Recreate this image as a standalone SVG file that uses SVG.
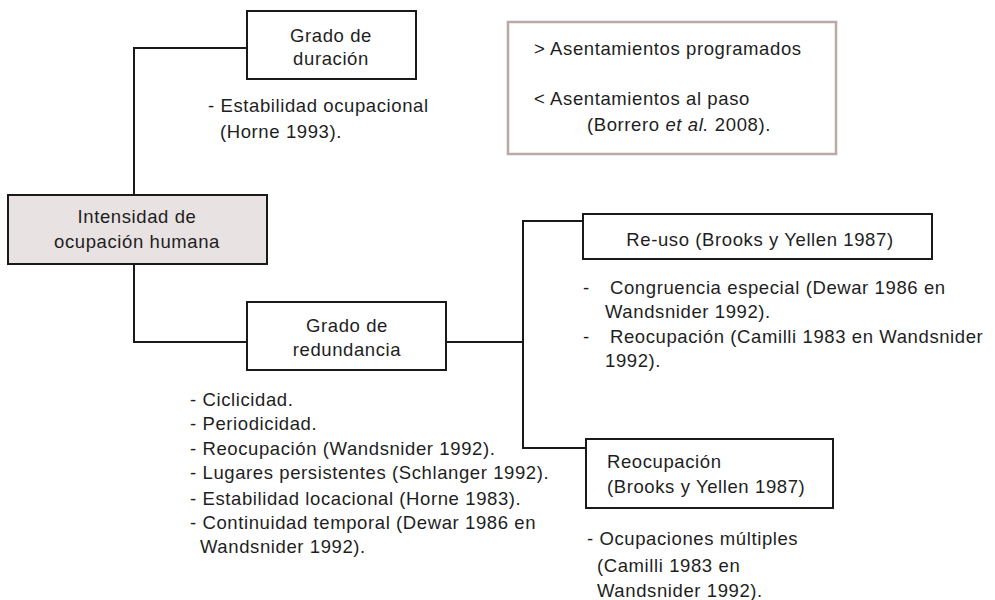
<svg xmlns="http://www.w3.org/2000/svg" width="995" height="600" viewBox="0 0 995 600">
<style>
text{font-family:"Liberation Sans",Arial,sans-serif;font-size:18.5px;letter-spacing:0.6px;fill:#1e1e1e}
.c{text-anchor:middle}
.box{fill:#fff;stroke:#1a1a1a;stroke-width:2}
.root{fill:#e8e2e2;stroke:#1a1a1a;stroke-width:2}
.note{fill:#fff;stroke:#bba9a9;stroke-width:2.5}
.ln{fill:none;stroke:#1a1a1a;stroke-width:2}
</style>
<rect width="995" height="600" fill="#fff"/>
<g id="connectors">
<path class="ln" d="M247,48 H134 V195"/>
<path class="ln" d="M134,264 V342 H247"/>
<path class="ln" d="M446,342 H523"/>
<path class="ln" d="M583,221 H523 V448 H586"/>
</g>
<g id="n-intensidad">
<rect class="root" x="8" y="195" width="259" height="69"/>
<text class="c" x="137" y="223">Intensidad de</text>
<text class="c" x="137" y="248">ocupación humana</text>
</g>
<g id="n-duracion">
<rect class="box" x="247" y="11" width="169" height="68"/>
<text class="c" x="331" y="42">Grado de</text>
<text class="c" x="331" y="65">duración</text>
<text x="208" y="112">- Estabilidad ocupacional</text>
<text x="220" y="138">(Horne 1993).</text>
</g>
<g id="n-nota">
<rect class="note" x="508" y="22" width="328" height="132"/>
<text x="534" y="55">&gt; Asentamientos programados</text>
<text x="534" y="105">&lt; Asentamientos al paso</text>
<text x="587" y="131">(Borrero <tspan font-style="italic">et al.</tspan> 2008).</text>
</g>
<g id="n-redundancia">
<rect class="box" x="247" y="302" width="199" height="68"/>
<text class="c" x="347" y="332">Grado de</text>
<text class="c" x="347" y="356">redundancia</text>
<text x="190" y="406">- Ciclicidad.</text>
<text x="190" y="430">- Periodicidad.</text>
<text x="190" y="455">- Reocupación (Wandsnider 1992).</text>
<text x="190" y="479">- Lugares persistentes (Schlanger 1992).</text>
<text x="190" y="505">- Estabilidad locacional (Horne 1983).</text>
<text x="190" y="529">- Continuidad temporal (Dewar 1986 en</text>
<text x="200" y="553">Wandsnider 1992).</text>
</g>
<g id="n-reuso">
<rect class="box" x="583" y="214" width="349" height="45"/>
<text class="c" x="760" y="246">Re-uso (Brooks y Yellen 1987)</text>
<text x="583" y="294">-</text>
<text x="610" y="294">Congruencia especial (Dewar 1986 en</text>
<text x="605" y="318">Wandsnider 1992).</text>
<text x="583" y="343">-</text>
<text x="610" y="343">Reocupación (Camilli 1983 en Wandsnider</text>
<text x="605" y="367">1992).</text>
</g>
<g id="n-reocupacion">
<rect class="box" x="586" y="439" width="247" height="69"/>
<text x="607" y="468">Reocupación</text>
<text x="607" y="493">(Brooks y Yellen 1987)</text>
<text x="587" y="545">- Ocupaciones múltiples</text>
<text x="597" y="572">(Camilli 1983 en</text>
<text x="597" y="597">Wandsnider 1992).</text>
</g>
</svg>
